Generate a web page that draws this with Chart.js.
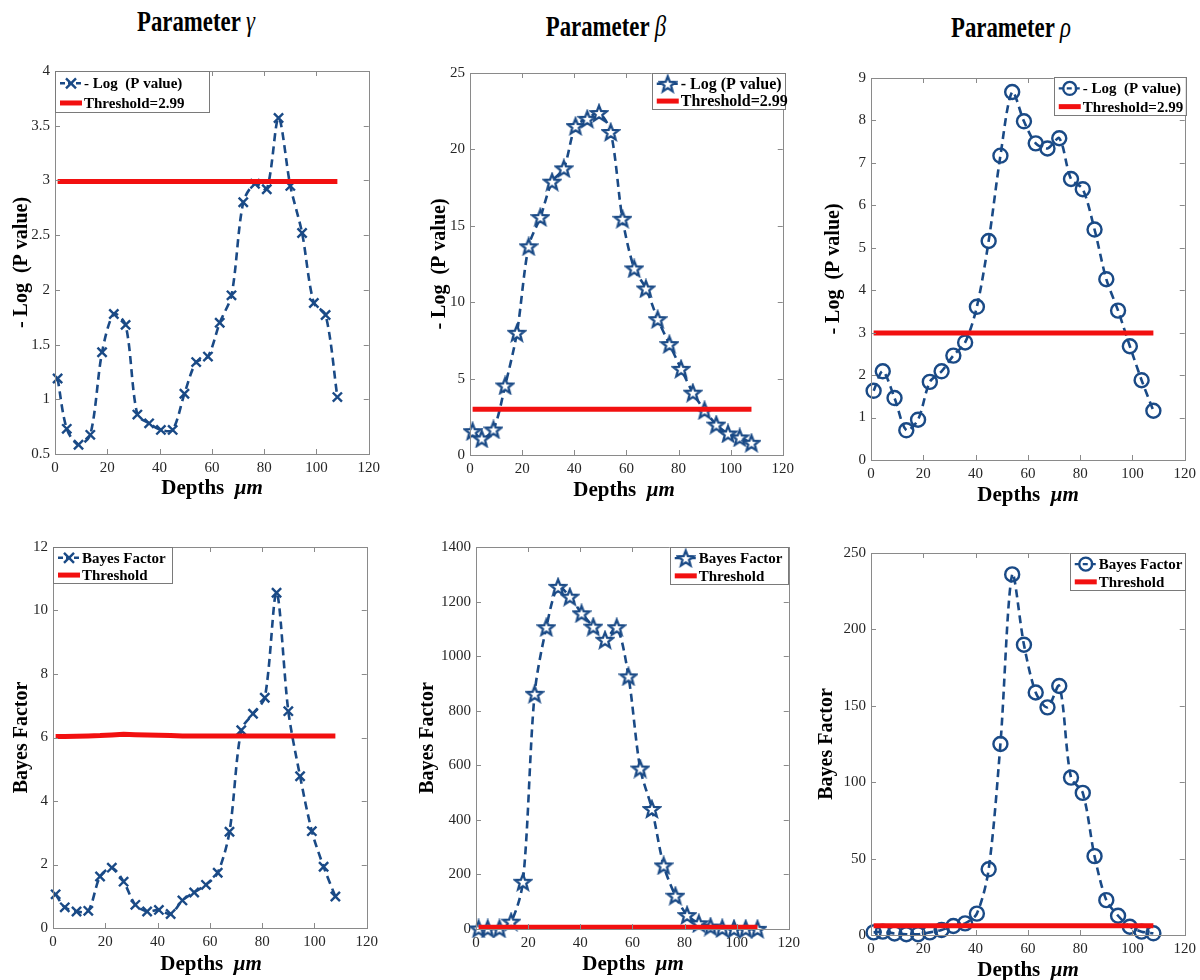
<!DOCTYPE html>
<html><head><meta charset="utf-8">
<script src="https://cdn.jsdelivr.net/npm/chart.js@4.4.0/dist/chart.umd.min.js"></script>
<style>
body{margin:0;background:#fff;width:1200px;height:980px;position:relative;overflow:hidden;font-family:'Liberation Serif','Times New Roman',serif;color:#000;}
canvas{position:absolute;}
.title{position:absolute;font-weight:bold;font-size:30px;white-space:nowrap;transform:translate(-50%,-50%) scaleX(0.76);z-index:2;}
.title i{font-weight:normal;}
.xt{position:absolute;font-weight:bold;font-size:21px;white-space:nowrap;transform:translate(-50%,-50%);z-index:2;}
</style></head><body>
<div class="title" style="left:196px;top:21px">Parameter <i>γ</i></div>
<div class="title" style="left:606px;top:26px">Parameter <i>β</i></div>
<div class="title" style="left:1011px;top:27px">Parameter <i>ρ</i></div>
<div class="xt" style="left:212px;top:487px">Depths&nbsp;&nbsp;<i>μm</i></div>
<div class="xt" style="left:624px;top:489px">Depths&nbsp;&nbsp;<i>μm</i></div>
<div class="xt" style="left:1028px;top:494px">Depths&nbsp;&nbsp;<i>μm</i></div>
<div class="xt" style="left:211px;top:963px">Depths&nbsp;&nbsp;<i>μm</i></div>
<div class="xt" style="left:633px;top:963px">Depths&nbsp;&nbsp;<i>μm</i></div>
<div class="xt" style="left:1028px;top:969px">Depths&nbsp;&nbsp;<i>μm</i></div>
<canvas id="c1"></canvas><canvas id="c2"></canvas><canvas id="c3"></canvas>
<canvas id="c4"></canvas><canvas id="c5"></canvas><canvas id="c6"></canvas>
<script>
// ---------- DATA ----------
const depths = [1, 4.5, 9, 13.5, 18, 22.5, 27, 31.5, 36, 40.5, 45, 49.5, 54, 58.5, 63, 67.5, 72, 76.5, 81, 85.5, 90, 94.5, 99, 103.5, 108];
const xTicks = [0, 20, 40, 60, 80, 100, 120];

const gammaLogP = [1.19, 0.73, 0.585, 0.675, 1.43, 1.78, 1.68, 0.86, 0.78, 0.72, 0.72, 1.05, 1.34, 1.39, 1.70, 1.95, 2.80, 2.97, 2.92, 3.57, 2.95, 2.52, 1.88, 1.77, 1.02];
const betaLogP  = [1.56, 1.08, 1.67, 4.55, 8.0, 13.66, 15.57, 17.89, 18.76, 21.53, 22.0, 22.38, 21.14, 15.46, 12.21, 10.9, 8.89, 7.26, 5.64, 4.08, 2.93, 1.99, 1.41, 1.15, 0.80];
const rhoLogP   = [1.63, 2.09, 1.46, 0.70, 0.95, 1.84, 2.09, 2.46, 2.77, 3.61, 5.16, 7.17, 8.67, 7.98, 7.46, 7.34, 7.58, 6.62, 6.38, 5.43, 4.26, 3.52, 2.68, 1.88, 1.16];

const gammaBF = [1.06, 0.65, 0.52, 0.54, 1.62, 1.90, 1.46, 0.73, 0.52, 0.57, 0.44, 0.87, 1.12, 1.36, 1.74, 3.03, 6.23, 6.75, 7.25, 10.56, 6.83, 4.78, 3.05, 1.93, 0.99];
const betaBF  = [2, 2, 2, 27, 173, 862, 1106, 1254, 1218, 1157, 1108, 1060, 1106, 926, 588, 440, 233, 122, 51, 21, 9, 3, 1, 1, 0.5];
const rhoBF   = [1.7, 2.2, 1, 0.5, 0.5, 1.7, 3.3, 5.9, 7.6, 14, 43, 125, 236, 190, 158.7, 149, 163, 103, 93, 51.6, 22.8, 12.6, 5.4, 2.2, 1.1];

const thresholdX = [1, 108];
const thresholdLogP = [2.99, 2.99];
const gammaBFThreshold = [6.03, 6.03, 6.04, 6.05, 6.06, 6.08, 6.10, 6.09, 6.08, 6.07, 6.06, 6.05, 6.05, 6.05, 6.05, 6.05, 6.05, 6.05, 6.05, 6.05, 6.05, 6.05, 6.05, 6.05, 6.05];
const betaBFThreshold  = [6.05, 6.05, 6.05, 6.05, 6.05, 6.05, 6.05, 6.05, 6.05, 6.05, 6.05, 6.05, 6.05, 6.05, 6.05, 6.05, 6.05, 6.05, 6.05, 6.05, 6.05, 6.05, 6.05, 6.05, 6.05];
const rhoBFThreshold   = [6.05, 6.05, 6.05, 6.05, 6.05, 6.05, 6.05, 6.05, 6.05, 6.05, 6.05, 6.05, 6.05, 6.05, 6.05, 6.05, 6.05, 6.05, 6.05, 6.05, 6.05, 6.05, 6.05, 6.05, 6.05];

const yLabelLog = '- Log  (P value)';
const yLabelBF = 'Bayes Factor';
const legendLog1 = '- Log  (P value)';
const legendLog2 = '- Log (P value)';
const legendBF = 'Bayes Factor';
const legendThrLog = 'Threshold=2.99';
const legendThrBF = 'Threshold';

// ---------- STYLE ----------
const BLUE = '#1a4a86';
const RED = '#f21010';
const SERIF = "'Liberation Serif', 'Times New Roman', serif";

function makeStar(){
  const s = 20, c = document.createElement('canvas');
  c.width = s; c.height = s;
  const g = c.getContext('2d');
  g.lineWidth = 2.3; g.strokeStyle = BLUE; g.fillStyle = '#fff'; g.lineJoin = 'miter';
  g.beginPath();
  for (let i = 0; i < 10; i++) {
    const r = i % 2 ? 3.5 : 8.2;
    const a = -Math.PI / 2 + i * Math.PI / 5;
    const x = s / 2 + r * Math.cos(a), y = s / 2 + 0.8 + r * Math.sin(a);
    if (i) g.lineTo(x, y); else g.moveTo(x, y);
  }
  g.closePath(); g.fill(); g.stroke();
  return c;
}
const STAR = makeStar();

const markers = {
  cross: {pointStyle: 'crossRot', pointRadius: 6.5, pointBorderWidth: 2.4, pointBackgroundColor: BLUE},
  star: {pointStyle: STAR, pointRadius: 10, pointBorderWidth: 2},
  circle: {pointStyle: 'circle', pointRadius: 7, pointBorderWidth: 2.4, pointBackgroundColor: 'rgba(0,0,0,0)'}
};

function drawLegendMarker(ctx, kind, x, y){
  ctx.save();
  ctx.strokeStyle = BLUE; ctx.lineWidth = 2.4;
  if (kind === 'cross') {
    const r = 5;
    ctx.beginPath(); ctx.moveTo(x - r, y - r); ctx.lineTo(x + r, y + r); ctx.moveTo(x - r, y + r); ctx.lineTo(x + r, y - r); ctx.stroke();
  } else if (kind === 'circle') {
    ctx.beginPath(); ctx.arc(x, y, 6.5, 0, Math.PI * 2); ctx.stroke();
  } else {
    ctx.drawImage(STAR, x - 10, y - 10);
  }
  ctx.restore();
}

const matlabBox = {
  id: 'matlabBox',
  afterDatasetsDraw(chart, args, opts){
    const {ctx, chartArea: {left, right, top, bottom}} = chart;
    const xs = chart.scales.x, ys = chart.scales.y;
    ctx.save();
    ctx.strokeStyle = '#8a8a8a'; ctx.lineWidth = 1;
    ctx.strokeRect(Math.round(left) + 0.5, Math.round(top) + 0.5, Math.round(right - left), Math.round(bottom - top));
    ctx.beginPath();
    const L = 5;
    xs.ticks.forEach(t => {
      const p = Math.round(xs.getPixelForValue(t.value)) + 0.5;
      ctx.moveTo(p, bottom); ctx.lineTo(p, bottom - L);
      ctx.moveTo(p, top); ctx.lineTo(p, top + L);
    });
    ys.ticks.forEach(t => {
      const p = Math.round(ys.getPixelForValue(t.value)) + 0.5;
      ctx.moveTo(left, p); ctx.lineTo(left + L, p);
      ctx.moveTo(right, p); ctx.lineTo(right - L, p);
    });
    ctx.stroke();

    // legend
    const lg = opts.legend;
    const bx = lg.anchor === 'left' ? left + lg.dx : right + lg.dx - lg.w;
    const by = top + lg.dy;
    ctx.fillStyle = '#fff';
    ctx.fillRect(bx, by, lg.w, lg.h);
    ctx.strokeStyle = '#7a7a7a'; ctx.lineWidth = 1;
    ctx.strokeRect(Math.round(bx) + 0.5, Math.round(by) + 0.5, lg.w, lg.h);
    const ds = chart.data.datasets;
    const rows = [by + lg.h * 0.3, by + lg.h * 0.78];
    const sx0 = bx + 5, sx1 = bx + 27;
    ctx.strokeStyle = BLUE; ctx.lineWidth = 2.4; ctx.setLineDash([5, 3]);
    ctx.beginPath(); ctx.moveTo(sx0, rows[0]); ctx.lineTo(sx1, rows[0]); ctx.stroke();
    ctx.setLineDash([]);
    drawLegendMarker(ctx, lg.marker, (sx0 + sx1) / 2, rows[0]);
    ctx.strokeStyle = RED; ctx.lineWidth = 5;
    ctx.beginPath(); ctx.moveTo(sx0, rows[1]); ctx.lineTo(sx1, rows[1]); ctx.stroke();
    ctx.fillStyle = '#000';
    ctx.font = 'bold ' + lg.fs + 'px ' + SERIF;
    ctx.textBaseline = 'middle'; ctx.textAlign = 'left';
    ctx.fillText(ds[1].label, sx1 + 2, rows[0] + 1);
    ctx.fillText(ds[0].label, sx1 + 2, rows[1] + 1);
    ctx.restore();
  }
};

function pts(xs, ys){ return xs.map((x, i) => ({x: x, y: ys[i]})); }

function makeChart(id, cfg){
  const a = cfg.area;
  const padTop = 12, padRight = 15, xh = 26;
  const left = a[0] - cfg.yw, top = a[1] - padTop;
  const w = a[2] + padRight - left, h = a[3] + xh - top;
  const cv = document.getElementById(id);
  cv.style.left = left + 'px'; cv.style.top = top + 'px';
  cv.width = w; cv.height = h; cv.style.width = w + 'px'; cv.style.height = h + 'px';
  const m = markers[cfg.marker];
  return new Chart(cv, {
    type: 'line',
    data: {
      datasets: [
        {label: cfg.thrLabel, data: pts(cfg.thrX, cfg.thrY), borderColor: RED, borderWidth: 5, pointRadius: 0, tension: 0, order: 0, clip: false},
        Object.assign({label: cfg.label, data: pts(depths, cfg.values), borderColor: BLUE, borderWidth: 2.6, borderDash: [8, 5],
          pointBorderColor: BLUE, tension: 0.3, order: 1, clip: false}, m)
      ]
    },
    options: {
      responsive: false, animation: false, devicePixelRatio: 1,
      layout: {padding: {top: padTop, right: padRight, left: 0, bottom: 0}},
      plugins: {legend: {display: false}, tooltip: {enabled: false}, matlabBox: {legend: cfg.legend}},
      scales: {
        x: {type: 'linear', min: 0, max: 120,
          afterBuildTicks: s => { s.ticks = xTicks.map(v => ({value: v})); },
          grid: {display: false, drawTicks: false}, border: {display: false},
          ticks: {padding: 5, color: '#262626', font: {family: SERIF, size: 15}, maxRotation: 0, callback: v => String(v)},
          afterFit: s => { s.height = xh; }
        },
        y: {type: 'linear', min: cfg.yTicks[0], max: cfg.yTicks[cfg.yTicks.length - 1],
          afterBuildTicks: s => { s.ticks = cfg.yTicks.map(v => ({value: v})); },
          grid: {display: false, drawTicks: false}, border: {display: false},
          ticks: {padding: 5, color: '#262626', font: {family: SERIF, size: 15}, callback: v => String(v)},
          title: {display: true, text: cfg.yLabel, color: '#000', padding: 0, font: {family: SERIF, size: 20, weight: 'bold'}},
          afterFit: s => { s.width = cfg.yw; }
        }
      }
    },
    plugins: [matlabBox]
  });
}

const yT1 = [0.5, 1, 1.5, 2, 2.5, 3, 3.5, 4];
const yT2 = [0, 5, 10, 15, 20, 25];
const yT3 = [0, 1, 2, 3, 4, 5, 6, 7, 8, 9];
const yT4 = [0, 2, 4, 6, 8, 10, 12];
const yT5 = [0, 200, 400, 600, 800, 1000, 1200, 1400];
const yT6 = [0, 50, 100, 150, 200, 250];

makeChart('c1', {area: [55, 69, 370, 454], yw: 45, values: gammaLogP, label: legendLog1, marker: 'cross', yTicks: yT1, yLabel: yLabelLog,
  thrX: thresholdX, thrY: thresholdLogP, thrLabel: legendThrLog,
  legend: {anchor: 'left', dx: 0, dy: 0, w: 154, h: 41, fs: 15, marker: 'cross'}});
makeChart('c2', {area: [470, 71, 784, 455], yw: 42, values: betaLogP, label: legendLog2, marker: 'star', yTicks: yT2, yLabel: yLabelLog,
  thrX: thresholdX, thrY: thresholdLogP, thrLabel: legendThrLog,
  legend: {anchor: 'right', dx: 2, dy: 0, w: 133, h: 36, fs: 16, marker: 'star'}});
makeChart('c3', {area: [871, 76, 1186, 460], yw: 49, values: rhoLogP, label: legendLog1, marker: 'circle', yTicks: yT3, yLabel: yLabelLog,
  thrX: thresholdX, thrY: thresholdLogP, thrLabel: legendThrLog,
  legend: {anchor: 'right', dx: 1, dy: -1, w: 132, h: 38, fs: 15, marker: 'circle'}});
makeChart('c4', {area: [53, 545, 368, 928], yw: 43, values: gammaBF, label: legendBF, marker: 'cross', yTicks: yT4, yLabel: yLabelBF,
  thrX: depths, thrY: gammaBFThreshold, thrLabel: legendThrBF,
  legend: {anchor: 'left', dx: 0, dy: 0, w: 119, h: 36, fs: 15, marker: 'cross'}});
makeChart('c5', {area: [476, 545, 790, 929], yw: 60, values: betaBF, label: legendBF, marker: 'star', yTicks: yT5, yLabel: yLabelBF,
  thrX: depths, thrY: betaBFThreshold, thrLabel: legendThrBF,
  legend: {anchor: 'right', dx: -1, dy: 0, w: 118, h: 37, fs: 15, marker: 'star'}});
makeChart('c6', {area: [871, 551, 1186, 935], yw: 56, values: rhoBF, label: legendBF, marker: 'circle', yTicks: yT6, yLabel: yLabelBF,
  thrX: depths, thrY: rhoBFThreshold, thrLabel: legendThrBF,
  legend: {anchor: 'right', dx: 0, dy: 0, w: 115, h: 37, fs: 15, marker: 'circle'}});
</script>
</body></html>
